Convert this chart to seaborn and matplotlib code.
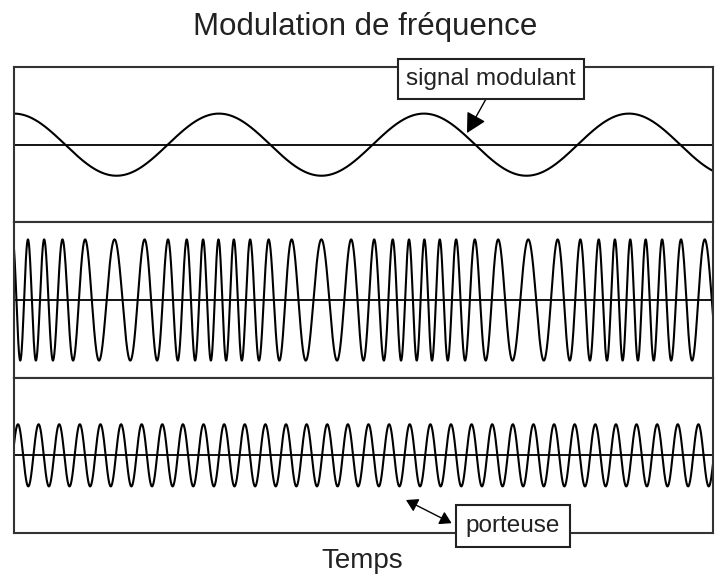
import numpy as np
import pandas as pd
import seaborn as sns
import matplotlib.pyplot as plt
from matplotlib.patches import ArrowStyle

# Paramètres (fenêtre de temps normalisée 0..1)
modulant_cycles = 3.41      # périodes du signal modulant dans la fenêtre
carrier_cycles = 33.9       # périodes de la porteuse dans la fenêtre
deviation_cycles = 12.0     # excursion de fréquence (cycles / fenêtre)
carrier_phase = -1.21       # rad
fm_phase = 0.57             # rad
panel_names = ["signal modulant", "signal module", "porteuse"]
panel_amplitudes = [0.40, 0.78, 0.40]

t = np.linspace(0, 1, 3000)
beta = deviation_cycles / modulant_cycles
signals = {
    "signal modulant": panel_amplitudes[0] * np.cos(2 * np.pi * modulant_cycles * t),
    "signal module": panel_amplitudes[1] * np.cos(2 * np.pi * carrier_cycles * t
                                                  + beta * np.sin(2 * np.pi * modulant_cycles * t)
                                                  + fm_phase),
    "porteuse": panel_amplitudes[2] * np.cos(2 * np.pi * carrier_cycles * t + carrier_phase),
}

sns.set_style("white")
plt.rcParams['font.family'] = ['Liberation Sans', 'DejaVu Sans']

fig, axes = plt.subplots(3, 1, figsize=(7.2, 5.76), dpi=100, sharex=True)
fig.subplots_adjust(left=14 / 720, right=713 / 720, top=1 - 67 / 576,
                    bottom=1 - 533 / 576, hspace=0)

for ax, name in zip(axes, panel_names):
    df = pd.DataFrame({"t": t, "v": signals[name]})
    sns.lineplot(data=df, x="t", y="v", ax=ax, color="black", lw=1.5, estimator=None)
    ax.axhline(0, color="black", lw=1.3)
    ax.set_xlim(0, 1)
    ax.set_ylim(-1, 1)
    ax.set_xticks([])
    ax.set_yticks([])
    ax.set_xlabel("")
    ax.set_ylabel("")
    for sp in ax.spines.values():
        sp.set_visible(True)
        sp.set_color("#333333")
        sp.set_linewidth(1.5)

fig.text(365 / 720, 1 - 35 / 576, "Modulation de fréquence", ha="center",
         va="baseline", fontsize=22.5, color="#222222")
fig.text(362 / 720, 1 - 568 / 576, "Temps", ha="center", va="baseline",
         fontsize=20, color="#222222")

box = dict(boxstyle="square,pad=0.35", fc="white", ec="#222222", lw=1.5)
fig.text(0, 0, "")
axes[0].annotate("signal modulant", xy=(467 / 720, 1 - 133 / 576), xycoords="figure fraction",
                 xytext=(491 / 720, 1 - 79 / 576), textcoords="figure fraction",
                 ha="center", va="center", fontsize=17.5, color="#222222",
                 bbox=box, annotation_clip=False, zorder=10,
                 arrowprops=dict(arrowstyle=ArrowStyle("-|>", head_length=0.6, head_width=0.32),
                                 mutation_scale=20, color="black", lw=1, relpos=(0.5, 0),
                                 shrinkA=0, shrinkB=0))

box2 = dict(boxstyle="square,pad=0.4", fc="white", ec="#222222", lw=1.5)
axes[2].annotate("porteuse", xy=(406 / 720, 1 - 500 / 576), xycoords="figure fraction",
                 xytext=(513 / 720, 1 - 526 / 576), textcoords="figure fraction",
                 ha="center", va="center", fontsize=17.5, color="#222222",
                 bbox=box2, annotation_clip=False, zorder=10,
                 arrowprops=dict(arrowstyle=ArrowStyle("<|-|>", head_length=0.5, head_width=0.3),
                                 mutation_scale=14, color="black", lw=1, relpos=(0, 0.3),
                                 shrinkA=3, shrinkB=0))

plt.savefig("out.png", dpi=100)
